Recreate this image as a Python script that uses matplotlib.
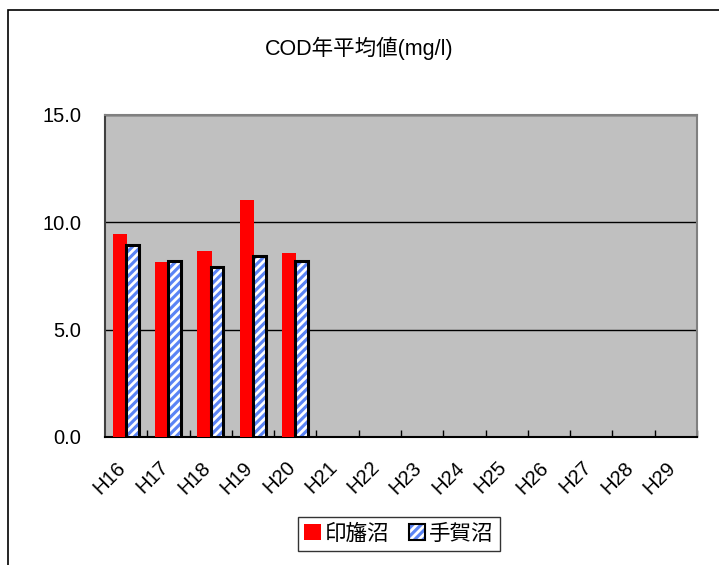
import matplotlib
matplotlib.use("Agg")
import matplotlib.pyplot as plt
import matplotlib.transforms as mtransforms
from matplotlib.patches import Patch, Rectangle
from matplotlib.legend_handler import HandlerTuple
import numpy as np

plt.rcParams['font.family'] = ['Liberation Sans', 'Noto Sans CJK JP', 'DejaVu Sans']
plt.rcParams['hatch.linewidth'] = 2.0

# data
years = ["H16", "H17", "H18", "H19", "H20", "H21", "H22", "H23",
         "H24", "H25", "H26", "H27", "H28", "H29"]
inba = [9.45, 8.15, 8.65, 11.05, 8.57]      # 印旛沼
teganuma = [8.93, 8.21, 7.92, 8.42, 8.22]   # 手賀沼

fig = plt.figure(figsize=(7.19, 5.65), dpi=100)
fig.patches.append(Rectangle((8 / 719, -0.1), 2, 1.1 - 10 / 565, transform=fig.transFigure,
                             fill=False, edgecolor='black', linewidth=1.2))

ax = fig.add_axes([105 / 719, 1 - 437 / 565, (697 - 105) / 719, (437 - 115) / 565])
ax.set_facecolor('#c0c0c0')

x = np.arange(len(inba))
ax.bar(x - 0.145, inba, width=0.345, color='#ff0000', zorder=3)
ax.bar(x + 0.146, teganuma, width=0.30, facecolor='#5b84f5', edgecolor='white',
       hatch='////', linewidth=0, zorder=3)
ax.bar(x + 0.146, teganuma, width=0.30, facecolor='none', edgecolor='black',
       linewidth=2.2, zorder=4)

ax.set_xlim(-0.5, len(years) - 0.5)
ax.set_ylim(0, 15)
ax.set_yticks([0, 5, 10, 15])
ax.set_yticklabels(["0.0", "5.0", "10.0", "15.0"], fontsize=14.5)
ax.yaxis.grid(True, color='black', linewidth=1)
ax.set_axisbelow(True)
ax.tick_params(axis='y', length=0, pad=17)

ax.set_xticks(np.arange(len(years)))
ax.set_xticklabels(years, rotation=45, ha='right', va='top',
                   rotation_mode='anchor', fontsize=14.5)
ax.tick_params(axis='x', which='major', length=0, pad=15)
shift = mtransforms.ScaledTranslation(-10 / 100, 0, fig.dpi_scale_trans)
for lbl in ax.get_xticklabels():
    lbl.set_transform(lbl.get_transform() + shift)
ax.set_xticks(np.arange(len(years)) + 0.5, minor=True)
ax.tick_params(axis='x', which='minor', direction='in', length=5, width=1)

for side in ['top', 'right']:
    ax.spines[side].set_color('#808080')
    ax.spines[side].set_linewidth(1.5)
ax.spines['bottom'].set_linewidth(1.5)
ax.spines['left'].set_linewidth(1.5)
ax.spines['left'].set_color('#404040')

fig.text(0.5, 1 - 48 / 565, "COD年平均値(mg/l)", ha='center', va='center', fontsize=15.5)

h1 = Patch(facecolor='#ff0000')
h2a = Patch(facecolor='#5b84f5', edgecolor='white', hatch='////', linewidth=0)
h2b = Patch(facecolor='none', edgecolor='black', linewidth=1.5)
leg = fig.legend([h1, (h2a, h2b)], ["印旛沼", "手賀沼"],
                 handler_map={tuple: HandlerTuple(ndivide=1)},
                 loc='center', bbox_to_anchor=(399 / 719, 1 - 534 / 565),
                 ncol=2, fontsize=15.5, frameon=True, fancybox=False,
                 edgecolor='black', handlelength=0.75, handleheight=0.75,
                 handletextpad=0.2, columnspacing=0.9, borderpad=0.3,
                 borderaxespad=0.0)
leg.get_frame().set_linewidth(1.0)

fig.savefig("out.png", dpi=100)
